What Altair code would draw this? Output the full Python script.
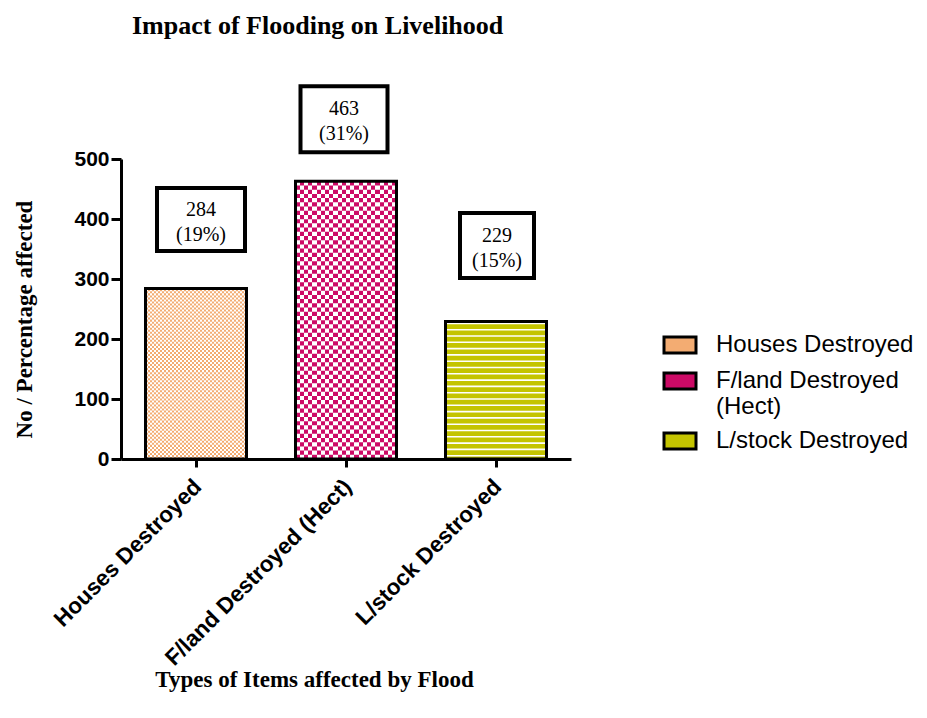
import altair as alt
import pandas as pd

# ---------------- data ----------------
categories = ["Houses Destroyed", "F/land Destroyed (Hect)", "L/stock Destroyed"]
counts = [284, 463, 229]
percents = [19, 31, 15]
y_ticks = [0, 100, 200, 300, 400, 500]

# ---------------- style ----------------
colors = ["#F3AC72", "#CC0A66", "#C4C400"]
PLOT_W, PLOT_H = 450, 300
Y_MAX = 500
BAR_W = 101
PX = PLOT_H / Y_MAX          # pixels per data unit
box_lift = [69, 62, 76]      # px from bar top to annotation box centre
box_dx = [5, -2, 1]
box_w = [88, 87, 74]
box_h = [63, 66, 65]

df = pd.DataFrame({"category": categories, "count": counts, "pct": percents})
df["label"] = [f"{c}\n({p}%)" for c, p in zip(counts, percents)]

x_enc = alt.X(
    "category:N", sort=categories,
    scale=alt.Scale(paddingInner=0.3, paddingOuter=0.15),
    axis=alt.Axis(
        title="Types of Items affected by Flood",
        titleFont="Liberation Serif", titleFontSize=23, titleFontWeight="bold",
        titleColor="black", titlePadding=9, titleX=193,
        labelAngle=-45, labelAlign="right", labelBaseline="top",
        labelFont="Liberation Sans", labelFontWeight="bold", labelFontSize=22.5,
        labelColor="black", labelPadding=8, labelLimit=500, labelOffset=-6,
        domainColor="black", domainWidth=3, tickColor="black", tickWidth=3, tickSize=8,
    ),
)
y_scale = alt.Scale(domain=[0, Y_MAX], nice=False)
y_enc = alt.Y(
    "count:Q", scale=y_scale,
    axis=alt.Axis(
        values=y_ticks, grid=False,
        title="No / Percentage affected",
        titleFont="Liberation Serif", titleFontSize=23, titleFontWeight="bold",
        titleColor="black", titlePadding=37, titleY=160,
        labelFont="Liberation Sans", labelFontWeight="bold", labelFontSize=21,
        labelColor="black", labelPadding=2,
        domainColor="black", domainWidth=3, tickColor="black", tickWidth=3, tickSize=10,
    ),
)

legend = alt.Legend(
    title=None, orient="none", legendX=547, legendY=174, padding=0,
    symbolType="M-1.6,-0.8H1.6V0.8H-1.6Z", symbolSize=400,
    symbolStrokeColor="black", symbolStrokeWidth=3, symbolOpacity=1,
    labelFont="Liberation Sans", labelFontSize=24, labelColor="black",
    labelOffset=24, rowPadding=8, labelLimit=300,
    labelExpr=("datum.label == 'F/land Destroyed (Hect)' ? ['F/land Destroyed', '(Hect)'] : "
               "datum.label == 'Houses Destroyed' ? '\u00a0Houses Destroyed' : datum.label"),
)

base = alt.Chart(df).mark_bar(width=BAR_W, opacity=1).encode(
    x=x_enc,
    y=y_enc,
    color=alt.Color("category:N", sort=categories,
                    scale=alt.Scale(domain=categories, range=colors), legend=legend),
)


def column_gradient(color, n_cols, phase):
    stops = []
    for i in range(n_cols):
        c = color if (i + phase) % 2 == 0 else "#FFFFFF"
        stops.append(alt.GradientStop(color=c, offset=i / n_cols))
        stops.append(alt.GradientStop(color=c, offset=(i + 1) / n_cols))
    return alt.Gradient(gradient="linear", stops=stops, x1=0, x2=1, y1=0, y2=0)


def band_rows(cat, value, step_px, thick_px, start_px=0.0):
    """rows of a texture (style), derived from the bar's value"""
    rows = []
    y = start_px / PX
    step = step_px / PX
    thick = thick_px / PX
    while y < value - 1e-6:
        rows.append({"category": cat, "y0": y, "y1": min(y + thick, value)})
        y += step
    return pd.DataFrame(rows)


layers = [base]

# Houses: fine orange checker
h_cell = BAR_W / 50
layers.append(
    alt.Chart(df).transform_filter(alt.datum.category == categories[0])
    .mark_bar(width=BAR_W, fill=column_gradient(colors[0], 50, 0))
    .encode(x=alt.X("category:N", sort=categories), y=alt.Y("count:Q", scale=y_scale))
)
layers.append(
    alt.Chart(band_rows(categories[0], counts[0], 2 * h_cell, h_cell, h_cell))
    .mark_bar(width=BAR_W, fill=column_gradient(colors[0], 50, 1))
    .encode(x=alt.X("category:N", sort=categories), y=alt.Y("y0:Q", scale=y_scale), y2="y1:Q")
)

# F/land: magenta checker
f_cell = BAR_W / 24
layers.append(
    alt.Chart(df).transform_filter(alt.datum.category == categories[1])
    .mark_bar(width=BAR_W, fill=column_gradient(colors[1], 24, 0))
    .encode(x=alt.X("category:N", sort=categories), y=alt.Y("count:Q", scale=y_scale))
)
layers.append(
    alt.Chart(band_rows(categories[1], counts[1], 2 * f_cell, f_cell, f_cell))
    .mark_bar(width=BAR_W, fill=column_gradient(colors[1], 24, 1))
    .encode(x=alt.X("category:N", sort=categories), y=alt.Y("y0:Q", scale=y_scale), y2="y1:Q")
)

# L/stock: white horizontal stripes
layers.append(
    alt.Chart(band_rows(categories[2], counts[2], 6.3, 1.6, 2.5))
    .mark_bar(width=BAR_W, fill="#FFFFFF")
    .encode(x=alt.X("category:N", sort=categories), y=alt.Y("y0:Q", scale=y_scale), y2="y1:Q")
)

# bar outlines
layers.append(
    alt.Chart(df).mark_bar(width=BAR_W, fillOpacity=0, stroke="black", strokeWidth=3)
    .encode(x=alt.X("category:N", sort=categories), y=alt.Y("count:Q", scale=y_scale))
)

# annotation boxes and labels
for i, cat in enumerate(categories):
    w, h = box_w[i], box_h[i]
    r = h / w
    shape = f"M-1,-{r:.4f}H1V{r:.4f}H-1Z"
    sub = alt.Chart(df).transform_filter(alt.datum.category == cat)
    layers.append(
        sub.mark_point(shape=shape, size=w * w, filled=True, fill="white", stroke="black",
                       strokeWidth=4, opacity=1, fillOpacity=1, strokeOpacity=1,
                       yOffset=-box_lift[i], xOffset=box_dx[i])
        .encode(x=alt.X("category:N", sort=categories), y=alt.Y("count:Q", scale=y_scale))
    )
    layers.append(
        sub.mark_text(font="Liberation Serif", fontSize=20, lineBreak="\n", lineHeight=25,
                      color="black", baseline="middle", align="center",
                      yOffset=-box_lift[i] - 10, xOffset=box_dx[i])
        .encode(x=alt.X("category:N", sort=categories), y=alt.Y("count:Q", scale=y_scale),
                text="label:N")
    )

chart = alt.layer(*layers).properties(
    width=PLOT_W, height=PLOT_H, background="white",
    title=alt.TitleParams(
        "Impact of Flooding on Livelihood", font="Liberation Serif", fontSize=26,
        fontWeight="bold", color="black", anchor="start", frame="group", dx=11, offset=39,
    ),
).configure_view(stroke=None)

chart.save("out.html", embed_options={"renderer": "svg", "actions": False})
